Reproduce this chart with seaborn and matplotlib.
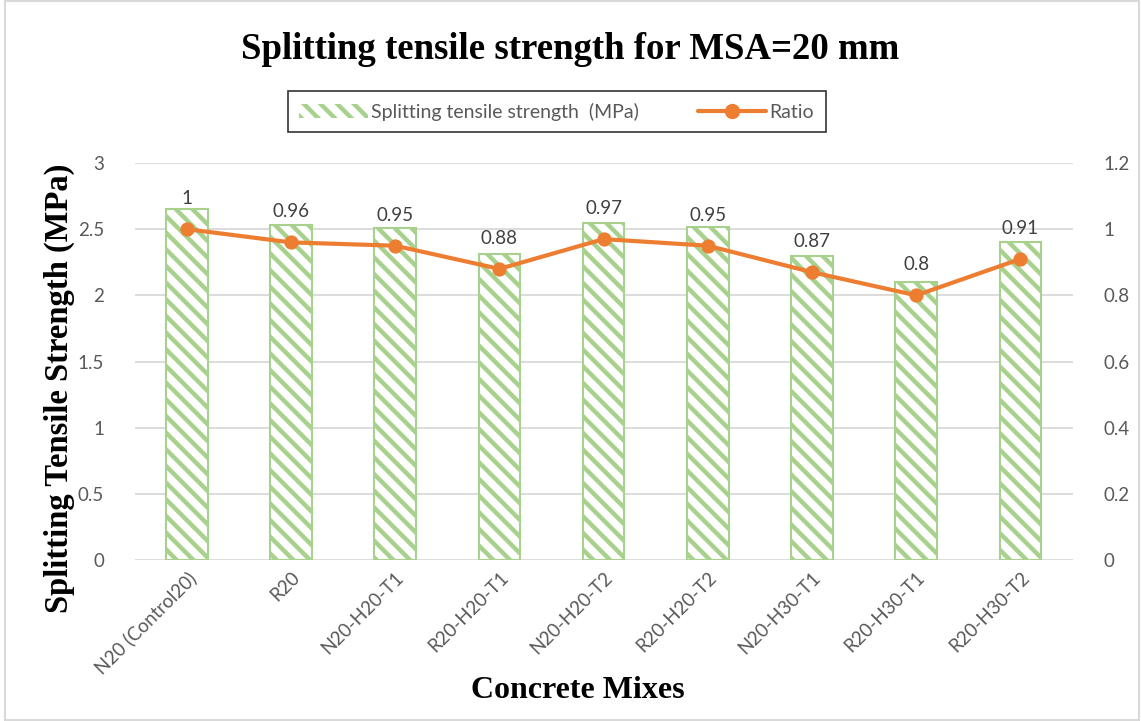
import matplotlib
matplotlib.use("Agg")
import matplotlib.pyplot as plt
import matplotlib.patches as mpatches
from matplotlib.lines import Line2D
import seaborn as sns
import pandas as pd

# Concrete mixes (MSA = 20 mm) and their test results
mixes = ["N20 (Control20)", "R20", "N20-H20-T1", "R20-H20-T1", "N20-H20-T2",
         "R20-H20-T2", "N20-H30-T1", "R20-H30-T1", "R20-H30-T2"]
strength_mpa = [2.65, 2.53, 2.51, 2.31, 2.55, 2.52, 2.30, 2.10, 2.40]
ratio = [1, 0.96, 0.95, 0.88, 0.97, 0.95, 0.87, 0.80, 0.91]
ratio_labels = ["1", "0.96", "0.95", "0.88", "0.97", "0.95", "0.87", "0.8", "0.91"]

left_ticks = [0, 0.5, 1, 1.5, 2, 2.5, 3]
left_tick_labels = ["0", "0.5", "1", "1.5", "2", "2.5", "3"]
right_ticks = [0, 0.2, 0.4, 0.6, 0.8, 1.0, 1.2]
right_tick_labels = ["0", "0.2", "0.4", "0.6", "0.8", "1", "1.2"]

df = pd.DataFrame({"mix": mixes, "strength": strength_mpa, "ratio": ratio})

sns.set_theme(style="white")
plt.rcParams["font.family"] = ["Lato", "DejaVu Sans"]
plt.rcParams["hatch.linewidth"] = 3.2
plt.rcParams["hatch.color"] = "#a9d18e"

GREEN = "#a9d18e"
ORANGE = "#ed7d31"
TICK_GREY = "#595959"
GRID_GREY = "#d9d9d9"
SERIF = ["Liberation Serif", "DejaVu Serif"]

fig = plt.figure(figsize=(11.41, 7.21), dpi=100)
ax = fig.add_axes([0.118, 0.223, 0.822, 0.551])

sns.barplot(data=df, x="mix", y="strength", ax=ax, width=0.4,
            color="white", edgecolor=GREEN, linewidth=1.5, hatch="\\\\")
for p in ax.patches:
    p.set_hatch("\\\\")
    p.set_edgecolor(GREEN)

ax.set_ylim(0, 3)
ax.set_xlim(-0.5, len(mixes) - 0.5)
ax.set_yticks(left_ticks)
ax.set_yticklabels(left_tick_labels)
ax.yaxis.grid(True, color=GRID_GREY, linewidth=1.3)
ax.set_axisbelow(True)
for s in ax.spines.values():
    s.set_visible(False)
ax.tick_params(axis="y", length=0, pad=22, labelsize=13.5, labelcolor=TICK_GREY)
ax.tick_params(axis="x", length=0, pad=6, labelsize=13.5, labelcolor=TICK_GREY)
ax.set_xticks(range(len(mixes)))
ax.set_xticklabels(mixes, rotation=45, ha="right", rotation_mode="anchor")
ax.set_xlabel("Concrete Mixes", family=SERIF, fontsize=23, fontweight="bold",
              color="black")
ax.set_ylabel("Splitting Tensile Strength (MPa)", family=SERIF, fontsize=23.5,
              fontweight="bold", color="black")
ax.xaxis.set_label_coords(0.473, -0.292)
ax.yaxis.set_label_coords(-0.064, 0.433)

# Ratio on the secondary axis
ax2 = ax.twinx()
sns.pointplot(data=df, x="mix", y="ratio", ax=ax2, color=ORANGE, markers="o",
              markersize=8, linewidth=3)
ax2.set_xlim(-0.5, len(mixes) - 0.5)
ax2.set_ylim(0, 1.2)
ax2.set_yticks(right_ticks)
ax2.set_yticklabels(right_tick_labels)
ax2.set_ylabel("")
ax2.tick_params(axis="y", length=0, pad=22, labelsize=13.5, labelcolor=TICK_GREY)
for s in ax2.spines.values():
    s.set_visible(False)

for i, (r, lab) in enumerate(zip(ratio, ratio_labels)):
    ax2.annotate(lab, (i, r), xytext=(0, 22), textcoords="offset points",
                 ha="center", va="center", fontsize=13.5, color="#404040")

fig.suptitle("Splitting tensile strength for MSA=20 mm", family=SERIF,
             fontsize=26.5, fontweight="bold", color="black", y=0.955)

handles = [mpatches.Patch(facecolor="white", edgecolor=GREEN, hatch="\\\\",
                          linewidth=0),
           Line2D([0], [0], color=ORANGE, lw=3, marker="o", markersize=10)]
leg = fig.legend(handles, ["Splitting tensile strength  (MPa)", "Ratio"],
                 loc="center", bbox_to_anchor=(0.488, 0.845), ncol=2,
                 fontsize=14, frameon=True, fancybox=False, borderpad=0.6,
                 handlelength=3.5, columnspacing=3.0, handletextpad=0.2,
                 labelcolor=TICK_GREY)
leg.get_frame().set_edgecolor("black")
leg.get_frame().set_linewidth(1.2)

# light outer chart border
fig.patches.append(mpatches.Rectangle((0.004, 0.002), 0.994, 0.996,
                                      transform=fig.transFigure, fill=False,
                                      edgecolor=GRID_GREY, linewidth=1.5))

fig.savefig("out.png", dpi=100)
